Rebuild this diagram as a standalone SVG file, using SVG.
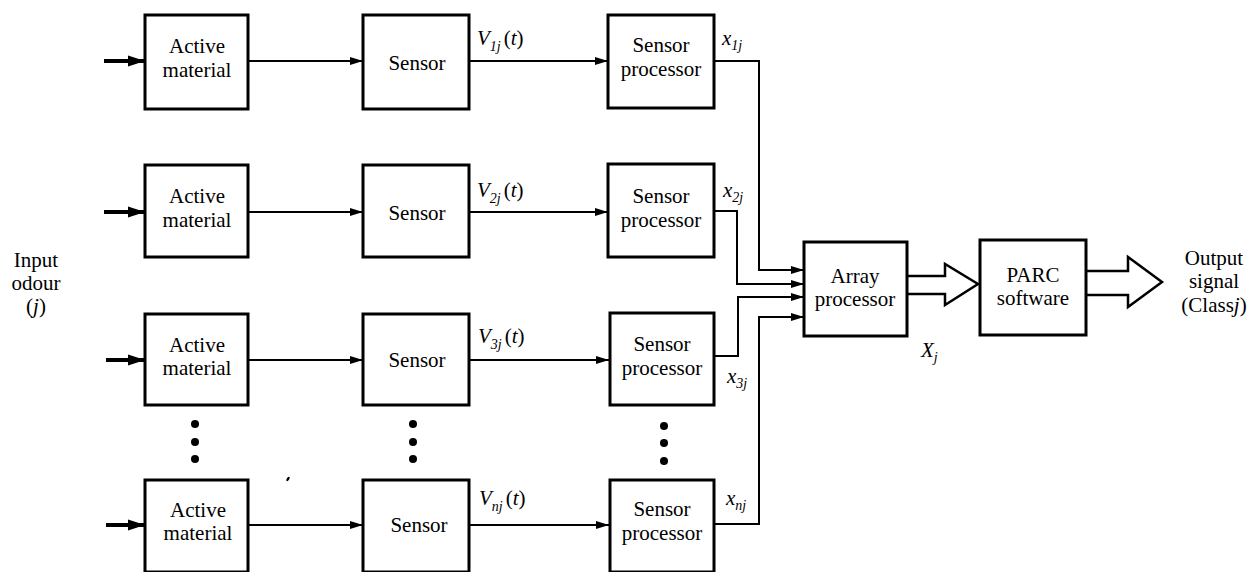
<svg xmlns="http://www.w3.org/2000/svg" width="1247" height="572" viewBox="0 0 1247 572" font-family="Liberation Serif, Times New Roman, serif">
  <style>
    .box { fill: #fff; stroke: #000; stroke-width: 3; }
    .t { font-size: 21px; fill: #000; text-anchor: middle; }
    .lbl { font-size: 21px; fill: #000; }
    .it { font-style: italic; }
    .sub { font-style: italic; font-size: 14px; }
    .wire { fill: none; stroke: #000; stroke-width: 2; }
    .feed { fill: none; stroke: #000; stroke-width: 4; }
    .hollow { fill: #fff; stroke: #000; stroke-width: 2.5; stroke-linejoin: miter; }
    .dot { fill: #000; }
  </style>
  <defs>
    <marker id="ah" markerUnits="userSpaceOnUse" markerWidth="14" markerHeight="10" refX="13" refY="5" orient="auto">
      <path d="M0,1 L13,5 L0,9 Z" fill="#000"/>
    </marker>
    <marker id="ahBig" markerUnits="userSpaceOnUse" markerWidth="18" markerHeight="12" refX="17" refY="6" orient="auto">
      <path d="M0,0.5 L17,6 L0,11.5 Z" fill="#000"/>
    </marker>
  </defs>

  <!-- side labels -->
  <g id="input-label">
    <text class="t" x="36" y="267" font-size="20">Input</text>
    <text class="t" x="36" y="290" font-size="20">odour</text>
    <text class="t" x="36" y="313" font-size="20">(<tspan class="it">j</tspan>)</text>
  </g>
  <g id="output-label">
    <text class="t" x="1214" y="265">Output</text>
    <text class="t" x="1214" y="288">signal</text>
    <text class="t" x="1214" y="312">(Class<tspan class="it">j</tspan>)</text>
  </g>

  <!-- connectors -->
  <g id="connectors">
    <!-- odour feeds -->
    <line class="feed" x1="104" y1="61" x2="145" y2="61" marker-end="url(#ahBig)"/>
    <line class="feed" x1="104" y1="212" x2="145" y2="212" marker-end="url(#ahBig)"/>
    <line class="feed" x1="106" y1="360" x2="145" y2="360" marker-end="url(#ahBig)"/>
    <line class="feed" x1="106" y1="525" x2="145" y2="525" marker-end="url(#ahBig)"/>
    <!-- material to sensor -->
    <line class="wire" x1="248" y1="61" x2="363" y2="61" marker-end="url(#ah)"/>
    <line class="wire" x1="248" y1="212" x2="363" y2="212" marker-end="url(#ah)"/>
    <line class="wire" x1="248" y1="360" x2="363" y2="360" marker-end="url(#ah)"/>
    <line class="wire" x1="248" y1="525" x2="363" y2="525" marker-end="url(#ah)"/>
    <!-- sensor to processor -->
    <line class="wire" x1="469" y1="61" x2="608" y2="61" marker-end="url(#ah)"/>
    <line class="wire" x1="469" y1="212" x2="608" y2="212" marker-end="url(#ah)"/>
    <line class="wire" x1="469" y1="360" x2="609" y2="360" marker-end="url(#ah)"/>
    <line class="wire" x1="469" y1="525" x2="609" y2="525" marker-end="url(#ah)"/>
    <!-- processor outputs into array processor -->
    <polyline class="wire" points="714,61 759,61 759,270 804,270" marker-end="url(#ah)"/>
    <polyline class="wire" points="714,211 737,211 737,284 804,284" marker-end="url(#ah)"/>
    <polyline class="wire" points="714,356 738,356 738,297 804,297" marker-end="url(#ah)"/>
    <polyline class="wire" points="714,524 759,524 759,317 804,317" marker-end="url(#ah)"/>
    <!-- wide arrows -->
    <path class="hollow" d="M907,276 H945 V264 L978,284 L945,305 V294 H907"/>
    <path class="hollow" d="M1086,271 H1128 V257 L1162,282 L1128,307 V295 H1086"/>
  </g>

  <!-- row 1 -->
  <g id="material-1"><rect class="box" x="145" y="15" width="103" height="94"/>
    <text class="t" x="197" y="53">Active</text><text class="t" x="197" y="77">material</text></g>
  <g id="sensor-1"><rect class="box" x="363" y="15" width="106" height="94"/>
    <text class="t" x="417" y="70">Sensor</text></g>
  <g id="processor-1"><rect class="box" x="608" y="15" width="106" height="93"/>
    <text class="t" x="661" y="52">Sensor</text><text class="t" x="661" y="76">processor</text></g>

  <!-- row 2 -->
  <g id="material-2"><rect class="box" x="145" y="165" width="103" height="92"/>
    <text class="t" x="197" y="203">Active</text><text class="t" x="197" y="227">material</text></g>
  <g id="sensor-2"><rect class="box" x="363" y="165" width="106" height="92"/>
    <text class="t" x="417" y="220">Sensor</text></g>
  <g id="processor-2"><rect class="box" x="608" y="164" width="106" height="93"/>
    <text class="t" x="661" y="203">Sensor</text><text class="t" x="661" y="227">processor</text></g>

  <!-- row 3 -->
  <g id="material-3"><rect class="box" x="145" y="314" width="103" height="91"/>
    <text class="t" x="197" y="352">Active</text><text class="t" x="197" y="375">material</text></g>
  <g id="sensor-3"><rect class="box" x="363" y="314" width="106" height="91"/>
    <text class="t" x="417" y="367">Sensor</text></g>
  <g id="processor-3"><rect class="box" x="610" y="313" width="104" height="92"/>
    <text class="t" x="662" y="351">Sensor</text><text class="t" x="662" y="375">processor</text></g>

  <!-- row n -->
  <g id="material-n"><rect class="box" x="145" y="480" width="103" height="92"/>
    <text class="t" x="198" y="517">Active</text><text class="t" x="198" y="540">material</text></g>
  <g id="sensor-n"><rect class="box" x="363" y="480" width="106" height="92"/>
    <text class="t" x="419" y="532">Sensor</text></g>
  <g id="processor-n"><rect class="box" x="610" y="480" width="104" height="92"/>
    <text class="t" x="662" y="516">Sensor</text><text class="t" x="662" y="540">processor</text></g>

  <!-- array processor and classifier -->
  <g id="array-processor"><rect class="box" x="804" y="242" width="103" height="94"/>
    <text class="t" x="855" y="283">Array</text><text class="t" x="855" y="306">processor</text></g>
  <g id="parc-software"><rect class="box" x="980" y="240" width="106" height="95"/>
    <text class="t" x="1033" y="282">PARC</text><text class="t" x="1033" y="305">software</text></g>

  <!-- signal labels -->
  <g id="signal-labels">
    <text class="lbl" x="477" y="45"><tspan class="it">V</tspan><tspan class="sub" dy="6">1j</tspan><tspan dy="-6" dx="3">(<tspan class="it">t</tspan>)</tspan></text>
    <text class="lbl" x="477" y="197"><tspan class="it">V</tspan><tspan class="sub" dy="6">2j</tspan><tspan dy="-6" dx="3">(<tspan class="it">t</tspan>)</tspan></text>
    <text class="lbl" x="478" y="343"><tspan class="it">V</tspan><tspan class="sub" dy="6">3j</tspan><tspan dy="-6" dx="3">(<tspan class="it">t</tspan>)</tspan></text>
    <text class="lbl" x="479" y="505"><tspan class="it">V</tspan><tspan class="sub" dy="6">nj</tspan><tspan dy="-6" dx="3">(<tspan class="it">t</tspan>)</tspan></text>
    <text class="lbl" x="722" y="45"><tspan class="it">x</tspan><tspan class="sub" dy="5">1j</tspan></text>
    <text class="lbl" x="723" y="197"><tspan class="it">x</tspan><tspan class="sub" dy="5">2j</tspan></text>
    <text class="lbl" x="727" y="383"><tspan class="it">x</tspan><tspan class="sub" dy="5">3j</tspan></text>
    <text class="lbl" x="726" y="505"><tspan class="it">x</tspan><tspan class="sub" dy="5">nj</tspan></text>
    <text class="lbl" x="921" y="357"><tspan class="it">X</tspan><tspan class="sub" dy="5">j</tspan></text>
  </g>

  <!-- ellipsis dots between rows -->
  <g id="ellipsis">
    <circle class="dot" cx="195" cy="424" r="4"/><circle class="dot" cx="195" cy="442" r="4"/><circle class="dot" cx="195" cy="459" r="4"/>
    <circle class="dot" cx="413" cy="424" r="4"/><circle class="dot" cx="413" cy="442" r="4"/><circle class="dot" cx="413" cy="459" r="4"/>
    <circle class="dot" cx="664" cy="426" r="4"/><circle class="dot" cx="664" cy="443" r="4"/><circle class="dot" cx="664" cy="461" r="4"/>
    <ellipse class="dot" cx="288" cy="479" rx="1.2" ry="2.4" transform="rotate(35 288 479)"/>
  </g>
</svg>
